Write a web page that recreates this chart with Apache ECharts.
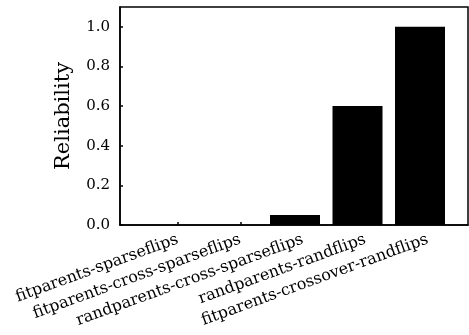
<!DOCTYPE html>
<html>
<head>
<meta charset="utf-8">
<script src="https://cdn.jsdelivr.net/npm/echarts@6/dist/echarts.min.js"></script>
<style>html,body{margin:0;padding:0;background:#fff;}#c{width:469px;height:335px;}</style>
</head>
<body>
<div id="c"></div>
<script>
const categories = [
  'fitparents-sparseflips',
  'fitparents-cross-sparseflips',
  'randparents-cross-sparseflips',
  'randparents-randflips',
  'fitparents-crossover-randflips'
];
const reliability = [0, 0, 0.05, 0.6, 1.0];
const yTicks = [0, 0.2, 0.4, 0.6, 0.8, 1.0];

const tickShift = 0.125;
const font = 'DejaVu Serif';
const chart = echarts.init(document.getElementById('c'), null, {renderer: 'canvas'});
chart.setOption({
  animation: false,
  backgroundColor: '#fff',
  grid: {left: 120, right: 1, top: 7, bottom: 110, show: true, borderColor: '#000', borderWidth: 1.5, containLabel: false},
  xAxis: {
    type: 'value', min: -0.8, max: 4.768,
    axisLine: {show: true, onZero: false, lineStyle: {color: '#000', width: 1.5}},
    splitLine: {show: false},
    axisTick: {show: true, inside: true, length: 3, lineStyle: {color: '#000', width: 1.5},
      customValues: categories.map((c, i) => i + tickShift)},
    axisLabel: {
      customValues: categories.map((c, i) => i + tickShift),
      formatter: v => categories[Math.round(v - tickShift)] || '',
      rotate: 20, margin: 14, fontFamily: font, fontSize: 16, color: '#000'
    }
  },
  yAxis: {
    type: 'value', min: 0, max: 1.1, interval: 0.2,
    name: 'Reliability', nameLocation: 'middle', nameGap: 46, nameRotate: 90,
    nameTextStyle: {fontFamily: font, fontSize: 21, color: '#000'},
    axisLine: {show: true, onZero: false, lineStyle: {color: '#000', width: 1.5}},
    splitLine: {show: false},
    axisTick: {show: true, inside: true, length: 3, lineStyle: {color: '#000', width: 1.5}},
    axisLabel: {
      showMaxLabel: false,
      formatter: v => yTicks.some(t => Math.abs(t - v) < 1e-9) ? v.toFixed(1) : '',
      margin: 10, fontFamily: font, fontSize: 15, color: '#000'
    }
  },
  series: [{
    type: 'bar',
    data: reliability.map((v, i) => [i, v]),
    barWidth: 50,
    itemStyle: {color: '#000'}
  }]
});
</script>
</body>
</html>
